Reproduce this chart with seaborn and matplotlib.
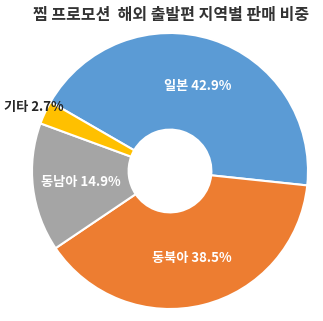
import numpy as np
import matplotlib
matplotlib.use("Agg")
import matplotlib.pyplot as plt
import seaborn as sns

categories = ["일본", "동북아", "동남아", "기타"]
values = [42.9, 38.5, 14.9, 2.7]
colors = ["#5B9BD5", "#ED7D31", "#A5A5A5", "#FFC000"]
title = "찜 프로모션  해외 출발편 지역별 판매 비중"

sns.set_style("white")
plt.rcParams["font.family"] = ["Noto Sans CJK KR", "DejaVu Sans"]

fig = plt.figure(figsize=(3.23, 3.21), dpi=100)
W, H = 323, 321
cx, cy, r = 170, 171, 138
ax = fig.add_axes([(cx - r) / W, (H - cy - r) / H, 2 * r / W, 2 * r / H])

wedges, _ = ax.pie(values, colors=colors, startangle=150, counterclock=False,
                   radius=1.0,
                   wedgeprops=dict(width=0.7, edgecolor="white", linewidth=1.5))
ax.set_xlim(-1, 1)
ax.set_ylim(-1, 1)
ax.set_aspect("equal")
ax.axis("off")

for w, cat, v in zip(wedges, categories, values):
    ang = np.deg2rad((w.theta1 + w.theta2) / 2)
    label = f"{cat} {v}%"
    if v < 5:
        d = 1.09
        col = "#262626"
    else:
        d = 0.65
        col = "white"
    ax.text(d * np.cos(ang), d * np.sin(ang), label, ha="center", va="center",
            fontsize=9.5, fontweight="bold", color=col, clip_on=False)

fig.text(171.5 / W, 1 - 15 / H, title, ha="center", va="center",
         fontsize=11.5, fontweight="bold", color="#333333")

fig.savefig("out.png", dpi=100, facecolor="white")
